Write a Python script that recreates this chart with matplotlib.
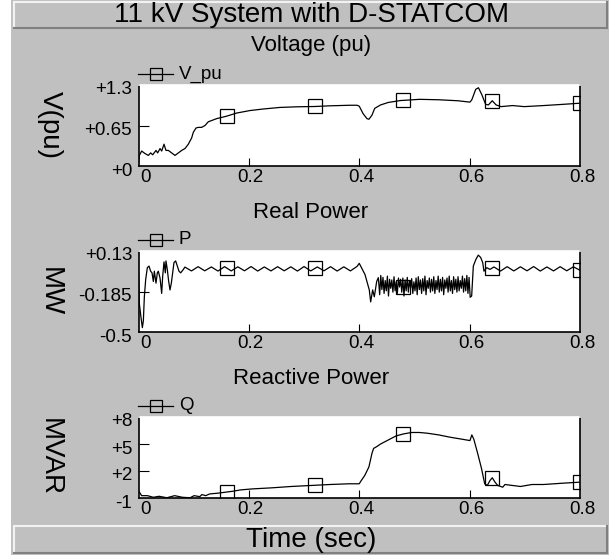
import numpy as np
import matplotlib
matplotlib.use("Agg")
import matplotlib.pyplot as plt
from matplotlib.lines import Line2D
from matplotlib.patches import Rectangle
from matplotlib.transforms import ScaledTranslation, blended_transform_factory

# ---------------- data ----------------
marker_times = [0.16, 0.32, 0.48, 0.64, 0.8]
x_ticks = [0.0, 0.2, 0.4, 0.6, 0.8]
x_tick_labels = ["0", "0.2", "0.4", "0.6", "0.8"]

# Voltage (pu)
v_t = [0.0, 0.0015, 0.0057, 0.0118, 0.0178, 0.0220, 0.0257, 0.0317, 0.0347, 0.0390,
       0.0420, 0.0462, 0.0498, 0.0541, 0.0601, 0.0661, 0.0722, 0.0782, 0.0842, 0.0903,
       0.0963, 0.0993, 0.1042, 0.1084, 0.1144, 0.1205, 0.1265, 0.1326, 0.1416, 0.1598,
       0.1779, 0.2020, 0.2262, 0.2564, 0.2866, 0.3198, 0.3470, 0.3832, 0.396, 0.400,
       0.407, 0.414, 0.4175, 0.423, 0.428, 0.4386, 0.4527, 0.474, 0.509, 0.544,
       0.579, 0.6006, 0.604, 0.611, 0.616, 0.622, 0.629, 0.634, 0.641, 0.648,
       0.657, 0.678, 0.699, 0.734, 0.770, 0.80]
v_pu = [0.03, 0.17, 0.24, 0.20, 0.17, 0.21, 0.18, 0.25, 0.21, 0.28,
        0.24, 0.35, 0.25, 0.25, 0.21, 0.17, 0.21, 0.25, 0.28, 0.35,
        0.45, 0.54, 0.61, 0.62, 0.62, 0.65, 0.71, 0.73, 0.76, 0.80,
        0.85, 0.89, 0.915, 0.94, 0.95, 0.955, 0.966, 0.975, 0.975, 0.96,
        0.84, 0.76, 0.75, 0.815, 0.925, 0.98, 1.02, 1.05, 1.07, 1.063,
        1.047, 1.025, 1.063, 1.23, 1.256, 1.146, 0.99, 0.98, 1.047, 0.98,
        0.953, 0.97, 0.953, 0.97, 0.99, 1.008]
v_yticks = [0.0, 0.65, 1.3]
v_ytick_labels = ["+0", "+0.65", "+1.3"]

# Real power (MW)
p_start_t = [0.0, 0.0015, 0.0045, 0.007, 0.0088, 0.0106, 0.0130, 0.0160, 0.0190, 0.0220,
             0.0245, 0.0269, 0.0287, 0.0317, 0.0341, 0.0359, 0.0390, 0.0420, 0.0438, 0.0462,
             0.0486, 0.0498, 0.0522, 0.0547, 0.0571, 0.0595, 0.0619, 0.0643, 0.0673, 0.0704,
             0.0734, 0.0764, 0.0812]
p_start = [-0.04, -0.279, -0.386, -0.466, -0.412, -0.226, -0.093, 0.0, 0.013, -0.027,
           -0.04, -0.107, -0.027, -0.12, -0.04, -0.027, -0.08, -0.20, -0.067, 0.045,
           -0.04, 0.053, -0.014, -0.107, -0.173, -0.12, -0.04, 0.04, 0.053, 0.013,
           -0.027, -0.04, -0.014]
p_ripple1 = [0.005, -0.025, 0.008, -0.024, 0.006, -0.026, 0.008, -0.025, 0.007, -0.024,
             0.009, -0.026, 0.006, -0.025, 0.008, -0.024, 0.007, -0.026, 0.009, -0.025,
             0.006, -0.024, 0.008, -0.026, 0.007, -0.025, 0.010]
p_fault_t = [0.400, 0.4104, 0.4182, 0.4207, 0.4243, 0.4273, 0.4316, 0.4346]
p_fault = [0.034, -0.053, -0.173, -0.266, -0.173, -0.226, -0.107, -0.077]
p_band = [-0.21, -0.06, -0.17, -0.075, -0.20, -0.10, -0.18, -0.065, -0.22, -0.09,
          -0.16, -0.095, -0.19, -0.07, -0.18, -0.11, -0.20, -0.08, -0.15, -0.09,
          -0.19, -0.08, -0.22, -0.095, -0.18, -0.075, -0.19, -0.10, -0.16, -0.085,
          -0.20, -0.11, -0.18, -0.08, -0.21, -0.07, -0.17, -0.095, -0.20, -0.085,
          -0.18, -0.065, -0.21, -0.10, -0.16, -0.08, -0.19, -0.09, -0.18, -0.07,
          -0.20, -0.10, -0.17, -0.065, -0.19, -0.09, -0.18, -0.075, -0.21, -0.095,
          -0.16, -0.08, -0.19, -0.065, -0.18, -0.10, -0.20, -0.07, -0.17, -0.09,
          -0.19, -0.07, -0.18, -0.10, -0.16, -0.065, -0.19, -0.085, -0.18, -0.06,
          -0.20, -0.075, -0.23]
p_clear_t = [0.6037, 0.6067, 0.6115, 0.6157, 0.620, 0.6237, 0.626, 0.631, 0.637]
p_clear = [-0.22, 0.013, 0.066, 0.098, 0.08, 0.04, -0.027, 0.0, -0.013]
p_ripple2 = [0.006, -0.026, 0.008, -0.025, 0.007, -0.024, 0.009, -0.026, 0.006, -0.025,
             0.008, -0.024, 0.007, -0.02]
p_yticks = [-0.5, -0.185, 0.13]
p_ytick_labels = ["-0.5", "-0.185", "+0.13"]

# Reactive power (MVAR)
q_t = [0.0, 0.0056, 0.0162, 0.0268, 0.0373, 0.0514, 0.0655, 0.0796, 0.0936, 0.1007,
       0.111, 0.1148, 0.1218, 0.1288, 0.1429, 0.157, 0.171, 0.185, 0.206, 0.2415,
       0.2767, 0.312, 0.347, 0.382, 0.400, 0.403, 0.410, 0.4175, 0.423, 0.426,
       0.4315, 0.4386, 0.4527, 0.4668, 0.481, 0.495, 0.509, 0.523, 0.544, 0.565,
       0.5865, 0.6006, 0.604, 0.6076, 0.6146, 0.6216, 0.6273, 0.632, 0.637, 0.641,
       0.646, 0.651, 0.660, 0.664, 0.678, 0.692, 0.713, 0.734, 0.770, 0.80]
q_mvar = [-0.17, -0.74, -0.74, -0.92, -0.81, -0.97, -0.74, -0.92, -0.97, -0.74,
          -0.85, -0.62, -0.74, -0.55, -0.47, -0.36, -0.25, -0.1, 0.01, 0.13,
          0.28, 0.39, 0.5, 0.58, 0.58, 0.88, 1.51, 2.45, 3.95, 4.51,
          4.7, 5.0, 5.45, 5.9, 6.13, 6.28, 6.28, 6.2, 6.01, 5.75,
          5.53, 5.38, 6.01, 5.53, 3.95, 2.26, 0.58, 0.39, 0.95, 1.25,
          0.76, 0.39, 0.2, 0.5, 0.39, 0.28, 0.5, 0.5, 0.65, 0.76]
q_yticks = [-1, 2, 5, 8]
q_ytick_labels = ["-1", "+2", "+5", "+8"]

# assemble P series (uniform sampling grids for the oscillating stretches)
p_t = np.concatenate([p_start_t,
                      np.linspace(0.084, 0.396, len(p_ripple1)),
                      p_fault_t,
                      np.linspace(0.437, 0.601, len(p_band)),
                      p_clear_t,
                      np.linspace(0.644, 0.8, len(p_ripple2))])
p_mw = np.concatenate([p_start, p_ripple1, p_fault, p_band, p_clear, p_ripple2])

# ---------------- figure ----------------
W, H, DPI = 609, 557, 100
plt.rcParams['font.family'] = ['Liberation Sans', 'DejaVu Sans']
fig = plt.figure(figsize=(W / DPI, H / DPI), dpi=DPI, facecolor='white')

def fx(x):
    return x / W

def fy(y):
    return 1 - y / H

GRAY = '#c0c0c0'
LIGHT = '#f2f2f2'
DARK = '#808080'

fig.add_artist(Rectangle((fx(11), fy(555)), 1 - fx(11), fy(0) - fy(555),
                         transform=fig.transFigure, facecolor=GRAY,
                         edgecolor='none', zorder=-10))

def bar(x0, y0, x1, y1):
    fig.add_artist(Rectangle((fx(x0), fy(y1)), fx(x1) - fx(x0), fy(y0) - fy(y1),
                             transform=fig.transFigure, facecolor=GRAY,
                             edgecolor='none', zorder=-5))
    fig.add_artist(Line2D([fx(x0), fx(x1)], [fy(y0), fy(y0)], color=LIGHT, lw=1.5))
    fig.add_artist(Line2D([fx(x0), fx(x0)], [fy(y0), fy(y1)], color=LIGHT, lw=1.5))
    fig.add_artist(Line2D([fx(x0), fx(x1)], [fy(y1), fy(y1)], color=DARK, lw=1.5))
    fig.add_artist(Line2D([fx(x1), fx(x1)], [fy(y0), fy(y1)], color=DARK, lw=1.5))

bar(14, 2, 607, 28)
bar(14, 526, 607, 553)
fig.text(fx(311), fy(15), "11 kV System with D-STATCOM", ha='center', va='center',
         fontsize=20, color='black')
fig.text(fx(311), fy(540), "Time (sec)", ha='center', va='center',
         fontsize=20, color='black')

panels = [
    dict(t=v_t, y=v_pu, ylim=(0, 1.3), yt=v_yticks, ytl=v_ytick_labels,
         title="Voltage (pu)", leg="V_pu", ylabel="V(pu)"),
    dict(t=p_t, y=p_mw, ylim=(-0.5, 0.13), yt=p_yticks, ytl=p_ytick_labels,
         title="Real Power", leg="P", ylabel="MW"),
    dict(t=q_t, y=q_mvar, ylim=(-1, 8), yt=q_yticks, ytl=q_ytick_labels,
         title="Reactive Power", leg="Q", ylabel="MVAR"),
]
tops = [85, 251, 417]
AX_L, AX_R, AX_H = 138.5, 580, 81

for pan, top in zip(panels, tops):
    bottom = top + AX_H
    ax = fig.add_axes([fx(AX_L), fy(bottom), (AX_R - AX_L) / W, AX_H / H])
    ax.set_facecolor('white')
    t = np.asarray(pan['t'], float)
    y = np.asarray(pan['y'], float)
    ax.plot(t, y, color='black', lw=0.9)
    ax.plot(marker_times, np.interp(marker_times, t, y), linestyle='none',
            marker='s', ms=10, mfc='none', mec='black', mew=0.9)
    ax.set_xlim(0, 0.8)
    ax.set_ylim(*pan['ylim'])
    ax.set_xticks(x_ticks)
    ax.set_yticks(pan['yt'])
    ax.tick_params(axis='x', direction='in', length=5.8, width=0.8, color='black',
                   labelbottom=False)
    ax.tick_params(axis='y', direction='in', length=7.2, width=0.8, color='black',
                   labelleft=False)
    xt = ax.xaxis.get_major_ticks()
    xt[0].tick1line.set_visible(False)
    xt[-1].tick1line.set_visible(False)
    yt_ = ax.yaxis.get_major_ticks()
    yt_[0].tick1line.set_visible(False)
    yt_[-1].tick1line.set_visible(False)
    for side in ['left', 'bottom', 'right']:
        ax.spines[side].set_color('black')
        ax.spines[side].set_linewidth(1.2)
    ax.spines['top'].set_color('white')
    ax.spines['top'].set_linewidth(1.2)

    ytrans = blended_transform_factory(ax.transAxes, ax.transData) + \
        ScaledTranslation(-6.5 / DPI, -5 / DPI, fig.dpi_scale_trans)
    for v, lab in zip(pan['yt'], pan['ytl']):
        ax.text(0, v, lab, transform=ytrans, ha='right', va='center', fontsize=13.5,
                clip_on=False)
    for v, lab in zip(x_ticks, x_tick_labels):
        if v == x_ticks[0]:
            tr = blended_transform_factory(ax.transData, ax.transAxes) + \
                ScaledTranslation(1.5 / DPI, -11 / DPI, fig.dpi_scale_trans)
            ha = 'left'
        else:
            tr = blended_transform_factory(ax.transData, ax.transAxes) + \
                ScaledTranslation(2 / DPI, -11 / DPI, fig.dpi_scale_trans)
            ha = 'center'
        ax.text(v, 0, lab, transform=tr, ha=ha, va='center', fontsize=13.5,
                clip_on=False)

    # section title, y label, legend
    fig.text(fx(311), fy(top - 39), pan['title'], ha='center', va='center', fontsize=16)
    fig.text(fx(50), fy(top + AX_H / 2), pan['ylabel'], rotation=-90, ha='center',
             va='center', fontsize=20)
    ly = fy(top - 11)
    fig.add_artist(Line2D([fx(138), fx(173)], [ly, ly], color='black', lw=0.9))
    fig.add_artist(Line2D([fx(156)], [ly], linestyle='none', marker='s', ms=9,
                          mfc='none', mec='black', mew=0.9))
    fig.text(fx(179), ly, pan['leg'], ha='left', va='center', fontsize=13.5)

fig.savefig("out.png", dpi=DPI, facecolor='white')
